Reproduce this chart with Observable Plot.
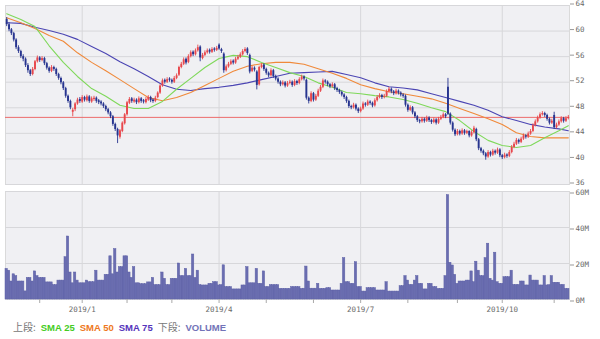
<!DOCTYPE html>
<html><head><meta charset="utf-8">
<script src="https://cdn.jsdelivr.net/npm/d3@7"></script>
<script src="https://cdn.jsdelivr.net/npm/@observablehq/plot@0.6"></script>
<style>
html,body{margin:0;padding:0;background:#fff;}
body{width:600px;height:339px;overflow:hidden;position:relative;}
#chart svg{display:block;overflow:visible;}
#legend{position:absolute;left:13px;top:321px;font:bold 9.5px "Liberation Sans",Arial,"Noto Sans CJK JP",sans-serif;white-space:nowrap;line-height:12px;}
#legend .lbl{color:#777;font-weight:normal;font-family:"Noto Sans CJK JP",sans-serif;font-size:10px;}
#legend span{margin-right:5px;}
</style></head>
<body>
<div id="chart"></div>
<div id="legend"><span class="lbl">上段:</span><span style="color:#44cc22">SMA 25</span><span style="color:#ee7722">SMA 50</span><span style="color:#5533bb">SMA 75</span><span class="lbl">下段:</span><span style="color:#7373b8">VOLUME</span></div>
<script>
// ---- daily candles (trading days, Nov 2018 - Nov 2019) ----
const open = [
61.8,61.0,60.2,59.6,58.6,57.4,56.8,56.0,55.6,54.6,
53.8,53.2,54.0,55.2,55.8,55.4,55.7,54.9,54.2,53.7,
54.3,54.0,53.2,52.6,51.9,51.0,49.8,49.0,47.3,47.7,
48.6,49.3,48.9,49.6,49.1,49.7,48.9,49.3,49.5,49.1,
48.9,48.6,48.2,47.7,47.2,46.6,45.4,44.6,43.4,44.3,
45.5,46.9,48.7,49.4,48.9,49.2,48.8,49.4,49.1,48.8,
49.2,49.6,49.2,49.0,49.6,50.3,51.4,52.3,52.0,52.5,
52.3,52.0,52.6,53.1,54.3,54.8,55.6,55.1,56.0,56.7,
56.3,56.9,57.5,55.7,56.2,56.6,57.0,56.7,57.2,57.0,
57.8,57.1,56.4,53.8,54.4,54.8,55.3,55.0,55.6,55.9,
56.3,56.8,57.2,56.2,53.7,54.2,53.6,51.6,54.3,54.7,
54.0,53.4,53.0,53.8,52.9,52.5,52.0,51.6,51.9,51.4,
51.8,52.0,51.5,52.1,51.8,52.4,52.8,52.3,49.5,49.0,
50.2,49.2,49.8,50.6,51.2,52.2,52.0,51.6,51.3,51.6,
51.0,50.7,50.4,50.0,49.6,49.0,48.2,48.0,48.4,47.8,
47.4,47.8,48.6,48.4,48.9,48.7,48.3,49.1,49.6,49.9,
49.6,49.8,50.5,50.9,50.5,50.2,50.6,50.3,50.0,49.8,
48.4,47.6,48.0,47.2,46.6,46.0,45.8,46.2,45.9,46.4,
46.0,45.7,46.1,45.6,46.2,46.5,46.9,51.2,47.0,45.6,
44.5,43.8,44.3,43.9,44.4,44.0,44.3,43.6,44.1,44.6,
43.0,41.6,41.2,40.8,40.3,41.0,40.6,41.2,40.9,41.4,
40.5,40.2,40.6,40.4,41.0,41.8,42.3,42.9,42.6,43.1,
43.6,43.4,43.9,44.3,45.2,45.8,46.4,46.9,47.1,46.8,
46.2,45.6,46.8,44.9,45.3,45.8,46.3,45.9,46.3];
const high = [
62.1,61.3,60.4,59.8,58.8,57.7,57.0,56.3,55.8,54.9,
54.0,54.3,55.4,56.1,56.0,56.0,55.9,55.1,54.4,54.6,
54.5,54.2,53.4,52.8,52.1,51.2,50.0,49.2,47.9,48.8,
49.5,49.6,49.9,49.8,50.0,49.9,49.7,49.8,49.7,49.3,
49.1,48.8,48.4,47.9,47.4,46.8,45.6,44.8,44.6,45.8,
47.1,49.0,49.6,49.6,49.5,49.4,49.7,49.6,49.3,49.6,
49.9,49.8,49.4,49.8,50.5,51.6,52.5,52.5,52.7,52.7,
52.5,52.9,53.3,54.5,55.1,55.8,55.8,56.3,56.9,56.9,
57.2,57.8,57.7,56.5,56.9,57.2,57.2,57.4,57.4,57.6,
58.0,57.3,56.6,54.7,55.1,55.5,55.5,55.9,56.2,56.6,
57.1,57.4,57.4,56.4,54.5,54.4,53.8,54.5,54.9,54.9,
54.2,53.6,54.1,54.0,53.1,52.7,52.2,52.2,52.1,52.1,
52.3,52.2,52.4,52.3,52.7,53.1,53.0,52.5,49.7,50.5,
50.4,50.1,50.9,51.5,52.5,52.4,52.2,51.8,51.9,51.8,
51.2,50.9,50.6,50.2,49.8,49.2,48.4,48.7,48.6,48.0,
48.1,48.9,48.8,49.2,49.1,48.9,49.4,49.9,50.2,50.1,
50.1,50.8,51.2,51.1,50.7,50.9,50.8,50.5,50.2,50.0,
48.6,48.3,48.2,47.4,46.8,46.2,46.5,46.4,46.7,46.6,
46.2,46.4,46.3,46.5,46.8,47.2,47.1,52.6,47.2,45.8,
44.7,44.6,44.5,44.7,44.6,44.5,44.4,44.4,45.1,44.8,
43.2,41.8,41.4,41.0,41.3,41.2,41.5,41.4,41.7,41.6,
40.7,40.9,40.8,41.3,42.1,42.6,43.2,43.1,43.4,43.9,
43.8,44.2,44.6,45.5,46.1,46.7,47.2,47.4,47.3,47.0,
46.4,46.2,47.3,45.6,46.1,46.6,46.5,46.6,46.8];
const low = [
60.7,59.9,59.3,58.3,57.1,56.5,55.7,55.2,54.3,53.4,
52.9,53.0,53.8,55.0,55.1,55.2,54.6,53.9,53.4,53.5,
53.7,52.9,52.3,51.6,50.7,49.5,48.7,47.7,46.6,47.4,
48.4,48.7,48.7,48.9,48.9,48.7,48.7,49.0,48.7,48.5,
48.3,47.9,47.4,46.9,46.3,45.1,44.3,42.4,43.1,44.1,
45.3,46.7,48.5,48.7,48.7,48.5,48.6,48.7,48.6,48.6,
49.0,48.8,48.7,48.8,49.4,50.1,51.2,51.7,51.8,52.0,
51.7,51.8,52.4,52.9,54.1,54.6,54.7,54.9,55.8,56.0,
56.1,56.7,55.2,55.5,56.0,56.4,56.4,56.5,56.7,56.8,
57.0,56.5,53.4,53.6,54.2,54.6,54.7,54.8,55.4,55.7,
56.1,56.6,56.2,53.3,53.5,53.6,50.8,51.4,54.1,53.7,
53.1,52.7,52.8,52.6,52.2,51.7,51.3,51.4,51.1,51.2,
51.6,51.2,51.3,51.5,51.6,52.2,52.2,49.2,48.6,48.8,
48.9,49.0,49.6,50.4,51.0,51.7,51.3,51.0,51.1,50.7,
50.4,50.1,49.7,49.3,48.7,47.9,47.7,47.8,47.5,47.1,
47.2,47.6,48.1,48.2,48.4,48.0,48.1,48.9,49.4,49.3,
49.4,49.6,50.3,50.2,49.9,50.0,50.0,49.7,49.5,48.1,
47.3,47.4,46.9,46.3,45.7,45.5,45.6,45.6,45.7,45.7,
45.4,45.5,45.3,45.4,46.0,46.3,46.3,46.8,45.3,44.2,
43.5,43.6,43.6,43.7,43.7,43.8,43.3,43.4,43.9,42.7,
41.3,40.9,40.5,39.8,40.1,40.3,40.4,40.6,40.7,40.2,
39.9,40.0,40.1,40.2,40.8,41.6,42.1,42.3,42.4,42.9,
43.1,43.2,43.7,44.1,45.0,45.6,46.2,46.7,46.5,45.9,
45.3,45.4,44.6,44.7,45.1,45.6,45.6,45.7,46.1];
const close = [
61.0,60.2,59.6,58.6,57.4,56.8,56.0,55.6,54.6,53.8,
53.2,54.0,55.2,55.8,55.4,55.7,54.9,54.2,53.7,54.3,
54.0,53.2,52.6,51.9,51.0,49.8,49.0,48.0,47.6,48.6,
49.2,49.0,49.6,49.2,49.7,49.0,49.4,49.5,49.0,48.8,
48.6,48.2,47.7,47.2,46.6,45.4,44.6,43.6,44.4,45.6,
46.9,48.8,49.3,49.0,49.2,48.8,49.4,49.0,48.9,49.3,
49.6,49.1,49.0,49.5,50.3,51.4,52.2,52.0,52.4,52.3,
52.0,52.6,53.0,54.3,54.8,55.5,55.0,56.0,56.6,56.3,
56.9,57.4,55.8,56.2,56.6,56.9,56.7,57.1,57.0,57.3,
57.2,56.8,53.8,54.4,54.8,55.2,55.0,55.6,55.9,56.3,
56.8,57.1,56.5,53.6,54.2,53.9,51.5,54.3,54.6,54.0,
53.4,53.0,53.8,52.9,52.5,52.0,51.6,51.9,51.4,51.8,
52.0,51.5,52.1,51.8,52.4,52.8,52.5,49.5,49.0,50.2,
49.2,49.8,50.6,51.2,52.2,52.0,51.6,51.3,51.6,51.0,
50.7,50.4,50.0,49.6,49.0,48.2,48.0,48.4,47.8,47.4,
47.8,48.6,48.4,48.9,48.7,48.3,49.1,49.6,49.9,49.6,
49.8,50.5,50.9,50.5,50.2,50.6,50.3,50.0,49.8,48.4,
47.6,48.0,47.2,46.6,46.0,45.8,46.2,45.9,46.4,46.0,
45.7,46.1,45.6,46.2,46.5,46.9,46.6,47.0,45.6,44.5,
43.8,44.3,43.9,44.4,44.0,44.3,43.6,44.1,44.8,43.0,
41.6,41.2,40.8,40.3,41.0,40.6,41.2,40.9,41.4,40.5,
40.2,40.6,40.4,41.0,41.8,42.3,42.9,42.6,43.1,43.6,
43.4,43.9,44.3,45.2,45.8,46.4,46.9,47.1,46.8,46.2,
45.6,45.9,44.9,45.3,45.8,46.3,45.9,46.3,46.5];
// volume in millions of shares
const volume = [
17,16,10,14,13,10,10,10,4.5,12,
12,10,15.6,13,12,12,12,9.5,9.5,9.5,
8,8,10.5,10.5,10.5,23.5,35,15,9,15,
10.5,9,9,9,10.5,9.6,9.6,9.6,16,10.5,
10.5,10.5,13.7,13.7,24,14,28,15,18,18,
24,24,15,12,18,9,9,8.5,8.5,8.5,
9.5,9.5,12,8,8,8,15,11.5,8,8,
11.5,11.5,11.5,20,13,13,17,13,13,25,
12,16,8,7.8,7.8,7.8,8.7,8.7,9.6,9.6,
7.8,8,19,6.9,6.9,6.9,5.6,5.6,5.6,5.6,
7.8,7.8,18,9,9,9,17,8.7,8.7,15.6,
6.9,6.9,8,8,8,8,5.9,5.9,5.9,5.9,
5.9,6.9,6.9,6.9,6.9,5.9,6,18.3,10,6,
6,6,8.7,5.9,5.9,5.9,6.3,6.3,5,5,
5,5,8.7,23,9.6,9.6,8.7,8.7,20.7,6.9,
6.9,4.4,4.4,6.3,6.3,6.3,6.3,5,5,5,
5,9.6,4.4,4.4,4.4,4.4,4.4,7.4,7.4,13,
10.5,8.1,8.1,10.5,13,8.7,8.7,5.6,5.6,8.7,
8.7,6.9,6.9,5.9,5.9,5.9,13,58,20.4,18.9,
13.7,8.7,10,10,10,10.5,10.5,15.6,9.6,21,
16,13,13,23,31,11.5,10.5,26,9.6,8.7,
8.7,12.4,12.4,12.4,16,8.1,8.1,8.1,10,10,
7.8,7.8,13.3,10.5,10.5,10.5,7.8,7.8,13,7.8,
8,13,9.3,9.3,9.3,8.1,8.1,5.9,5.9];
// moving averages read at every 6th trading day
const smaDay = [0,6,12,18,24,30,36,42,48,54,60,66,72,78,84,90,96,102,108,114,120,126,132,138,144,150,156,162,168,174,180,186,192,198,204,210,216,222,228,234,238];
const sma25 = [62.7,61.8,60.7,57.7,55.1,52.9,51.0,49.8,48.4,47.9,47.9,49.0,50.9,52.6,54.3,55.7,56.2,56.0,55.1,54.3,53.5,52.9,51.9,51.2,50.4,50.2,49.9,49.7,49.3,48.7,48.0,47.4,46.0,44.3,42.9,42.1,41.8,42.1,43.3,44.4,45.2];
const sma50 = [62.1,61.3,60.4,59.3,58.4,56.6,55.1,53.8,52.4,51.0,49.6,49.1,49.6,50.4,51.5,52.6,53.7,54.5,54.9,55.1,55.1,54.8,54.1,53.4,52.6,51.6,51.0,50.5,50.2,49.8,49.4,48.7,47.9,47.1,46.3,45.4,44.1,43.5,43.3,43.3,43.3];
const sma75 = [61.3,61.2,60.6,60.1,59.5,58.7,57.6,56.5,55.2,54.1,52.9,51.6,50.9,50.7,51.0,51.2,51.5,51.9,52.4,52.9,53.4,53.5,53.6,53.7,53.2,52.7,51.9,51.3,51.1,50.8,50.2,49.6,49.0,48.4,47.6,46.6,46.0,45.4,45.0,44.7,44.4];
// first trading day of each month (index) and its label
const monthDay = [14,32,51,70,90,110,130,150,170,191,210,232];
const monthLabel = ["","2019/1","","","2019/4","","","2019/7","","","2019/10",""];
const priceTicks = [36,40,44,48,52,56,60,64];
const volumeTicks = [0,20,40,60];

const N = close.length;
const candles = close.map((c, i) => ({i, o: open[i], h: high[i], l: low[i], c, v: volume[i]}));
const upC = candles.filter(d => d.c >= d.o);
const dnC = candles.filter(d => d.c < d.o);
const quarterDay = monthDay.filter((d, k) => monthLabel[k] !== "");
const labelOf = new Map(monthDay.map((d, k) => [d, monthLabel[k]]));
const smaRows = (arr) => smaDay.map((d, k) => ({i: d, v: arr[k]}));

const BG = "#f0f0f3", GRID = "#d7d7da", FRAME = "#dadada";
const RED = "#e8474c", BLUE = "#27348f";
const chartStyle = {fontFamily: "'DejaVu Sans Mono', monospace", fontSize: "7.5px", color: "#6a6a6a", overflow: "visible", background: "transparent"};
const xDomain = [-0.5, N - 0.5];

const priceChart = Plot.plot({
  width: 600, height: 187,
  marginLeft: 5, marginRight: 31, marginTop: 5, marginBottom: 3,
  style: chartStyle,
  x: {domain: xDomain, axis: null, label: null},
  y: {domain: [36, 64], axis: null, label: null},
  marks: [
    Plot.frame({fill: BG, stroke: FRAME}),
    Plot.ruleY(priceTicks, {stroke: GRID}),
    Plot.ruleX(quarterDay, {stroke: GRID}),
    Plot.ruleY([close[N - 1]], {stroke: "#ec6b6b", strokeWidth: 1}),
    Plot.line(smaRows(sma75), {x: "i", y: "v", stroke: "#4b45b3", strokeWidth: 1.1}),
    Plot.line(smaRows(sma50), {x: "i", y: "v", stroke: "#f0893a", strokeWidth: 1.1}),
    Plot.line(smaRows(sma25), {x: "i", y: "v", stroke: "#7fd85a", strokeWidth: 1.1}),
    Plot.ruleX(upC, {x: "i", y1: "l", y2: "h", stroke: RED, strokeWidth: 0.9}),
    Plot.ruleX(dnC, {x: "i", y1: "l", y2: "h", stroke: BLUE, strokeWidth: 0.9}),
    Plot.ruleX(upC, {x: "i", y1: "o", y2: "c", stroke: RED, strokeWidth: 1.9}),
    Plot.ruleX(dnC, {x: "i", y1: "o", y2: "c", stroke: BLUE, strokeWidth: 1.9}),
    Plot.axisY(priceTicks, {anchor: "right", label: null, tickSize: 4, tickPadding: 2, stroke: "#999", fill: "#6a6a6a", dy: -1.5})
  ]
});

const volumeChart = Plot.plot({
  width: 600, height: 134,
  marginLeft: 5, marginRight: 31, marginTop: 4, marginBottom: 22,
  style: chartStyle,
  x: {domain: xDomain, axis: null, label: null},
  y: {domain: [0, 60], axis: null, label: null},
  marks: [
    Plot.frame({fill: BG, stroke: FRAME}),
    Plot.ruleY(volumeTicks, {stroke: GRID}),
    Plot.ruleX(quarterDay, {stroke: GRID}),
    Plot.rectY(candles, {x1: d => d.i - 0.5, x2: d => d.i + 0.5, y1: 0, y2: "v", fill: "#6a6db0", stroke: "#5d60a6", strokeWidth: 0.5}),
    Plot.axisY(volumeTicks, {anchor: "right", label: null, tickSize: 4, tickPadding: 2, stroke: "#999", fill: "#6a6a6a", dy: 1.5, tickFormat: d => d + "M"}),
    Plot.axisX(monthDay, {anchor: "bottom", label: null, tickSize: 4, tickPadding: 3, stroke: "#aaa", fill: "#6a6a6a", tickFormat: d => labelOf.get(d)})
  ]
});

document.getElementById("chart").append(priceChart, volumeChart);
</script>
</body></html>
